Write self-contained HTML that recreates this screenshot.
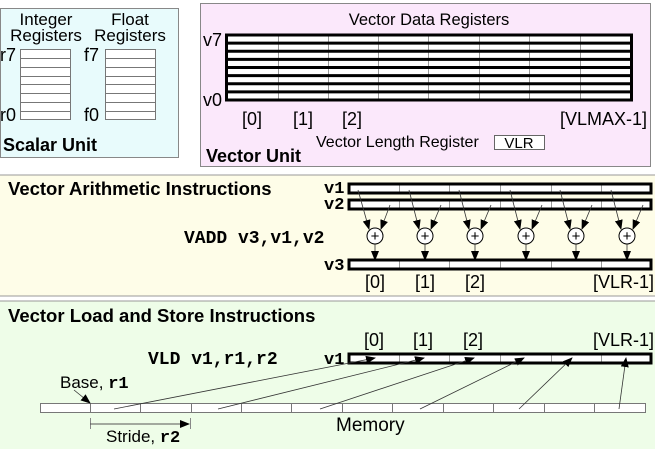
<!DOCTYPE html>
<html><head><style>
html,body{margin:0;padding:0;background:#fff;width:655px;height:449px;overflow:hidden}
text{font-family:"Liberation Sans",sans-serif}
.m{font-family:"Liberation Mono",monospace;font-weight:bold}
</style></head><body>
<svg width="655" height="449" viewBox="0 0 655 449" xmlns="http://www.w3.org/2000/svg">
<defs>
<marker id="ah" markerWidth="10" markerHeight="8" refX="9" refY="4" orient="auto" markerUnits="userSpaceOnUse"><path d="M0,0 L10,4 L0,8 z" fill="#000"/></marker>
</defs>
<!-- scalar unit -->
<rect x="0.5" y="8.5" width="178" height="149" fill="#e8fbfc" stroke="#888"/>
<text x="46" y="25" font-size="17" text-anchor="middle">Integer</text>
<text x="46" y="41" font-size="17" text-anchor="middle">Registers</text>
<text x="130" y="25" font-size="17" text-anchor="middle">Float</text>
<text x="130" y="41" font-size="17" text-anchor="middle">Registers</text>
<g fill="#fff" stroke="#777" stroke-width="1">
<rect x="20.5" y="49.5" width="50" height="70"/>
<rect x="105.5" y="49.5" width="50" height="70"/>
</g>
<g stroke="#777">
<path d="M20 58.5h50M20 67.5h50M20 76.5h50M20 84.5h50M20 93.5h50M20 102.5h50M20 111.5h50"/>
<path d="M105 58.5h50M105 67.5h50M105 76.5h50M105 84.5h50M105 93.5h50M105 102.5h50M105 111.5h50"/>
</g>
<text x="0" y="61" font-size="18">r7</text>
<text x="0" y="121" font-size="18">r0</text>
<text x="84" y="61" font-size="18">f7</text>
<text x="84" y="121" font-size="18">f0</text>
<text x="3" y="151" font-size="18" font-weight="bold">Scalar Unit</text>
<!-- vector unit -->
<rect x="200.5" y="3.5" width="450" height="163" fill="#fbe8fb" stroke="#888"/>
<text x="429" y="25" font-size="16.5" text-anchor="middle">Vector Data Registers</text>
<rect x="226.5" y="35" width="405" height="65" fill="#fff"/>
<g stroke="#999"><path d="M278.5 35v65M328.5 35v65M378.5 35v65M428.5 35v65M479.5 35v65M529.5 35v65M580.5 35v65"/></g>
<g stroke="#000" stroke-width="3" fill="none">
<rect x="226.5" y="35" width="405" height="65"/>
<path d="M226 43.1h405M226 51.2h405M226 59.4h405M226 67.5h405M226 75.6h405M226 83.8h405M226 91.9h405"/>
</g>
<text x="203" y="46" font-size="18">v7</text>
<text x="203" y="106" font-size="18">v0</text>
<text x="242" y="125" font-size="18">[0]</text>
<text x="293" y="125" font-size="18">[1]</text>
<text x="342" y="125" font-size="18">[2]</text>
<text x="560" y="125" font-size="18">[VLMAX-1]</text>
<text x="316" y="147" font-size="16">Vector Length Register</text>
<rect x="494.5" y="135.5" width="50" height="14" fill="#fff" stroke="#666"/>
<text x="519" y="148" font-size="15" text-anchor="middle">VLR</text>
<text x="206" y="162" font-size="18" font-weight="bold">Vector Unit</text>
<!-- arithmetic panel -->
<rect x="-1" y="175" width="657" height="121" fill="#fefde8" stroke="#999"/>
<text x="8" y="195" font-size="18.5" font-weight="bold">Vector Arithmetic Instructions</text>
<text x="184" y="243" font-size="18" class="m">VADD v3,v1,v2</text>
<text x="324" y="193" font-size="17" class="m">v1</text>
<text x="324" y="209" font-size="17" class="m">v2</text>
<text x="324" y="270" font-size="17" class="m">v3</text>
<g fill="#fff"><rect x="349" y="184" width="302" height="9"/><rect x="349" y="200" width="302" height="9"/><rect x="349" y="260" width="302" height="9"/></g>
<g stroke="#999"><path d="M399.5 184v9M449.5 184v9M500.5 184v9M551.5 184v9M601.5 184v9M399.5 200v9M449.5 200v9M500.5 200v9M551.5 200v9M601.5 200v9M399.5 260v9M449.5 260v9M500.5 260v9M551.5 260v9M601.5 260v9"/></g>
<g fill="none" stroke="#000" stroke-width="3"><rect x="349" y="184" width="302" height="9"/><rect x="349" y="200" width="302" height="9"/><rect x="349" y="260" width="302" height="9"/></g>
<g stroke="#333" stroke-width="0.8" marker-end="url(#ah)">
<path d="M358 190L369 229"/><path d="M390 205L381 229"/><path d="M375 244V260"/>
<path d="M409 190L419 229"/><path d="M441 205L431 229"/><path d="M425 244V260"/>
<path d="M459 190L469 229"/><path d="M491 205L481 229"/><path d="M475 244V260"/>
<path d="M510 190L520 229"/><path d="M542 205L532 229"/><path d="M526 244V260"/>
<path d="M560 190L570 229"/><path d="M592 205L582 229"/><path d="M576 244V260"/>
<path d="M611 190L621 229"/><path d="M643 205L633 229"/><path d="M627 244V260"/>
</g>
<g fill="#fff" stroke="#000"><circle cx="375" cy="236" r="8"/><circle cx="425" cy="236" r="8"/><circle cx="475" cy="236" r="8"/><circle cx="526" cy="236" r="8"/><circle cx="576" cy="236" r="8"/><circle cx="627" cy="236" r="8"/></g>
<g font-size="15" text-anchor="middle"><text x="375" y="241">+</text><text x="425" y="241">+</text><text x="475" y="241">+</text><text x="526" y="241">+</text><text x="576" y="241">+</text><text x="627" y="241">+</text></g>
<g font-size="18"><text x="365" y="288">[0]</text><text x="415" y="288">[1]</text><text x="465" y="288">[2]</text><text x="593" y="288">[VLR-1]</text></g>
<!-- load/store panel -->
<rect x="-1" y="301" width="657" height="150" fill="#eefde8" stroke="#999"/>
<text x="8" y="322" font-size="18.5" font-weight="bold">Vector Load and Store Instructions</text>
<g font-size="18"><text x="364" y="346">[0]</text><text x="413" y="346">[1]</text><text x="463" y="346">[2]</text><text x="593" y="346">[VLR-1]</text></g>
<text x="148" y="364" font-size="18" class="m">VLD v1,r1,r2</text>
<text x="324" y="364" font-size="17" class="m">v1</text>
<rect x="349" y="354" width="302" height="9" fill="#fff"/>
<g stroke="#999"><path d="M399.5 354v9M449.5 354v9M500.5 354v9M551.5 354v9M601.5 354v9"/></g>
<rect x="349" y="354" width="302" height="9" fill="none" stroke="#000" stroke-width="3"/>
<rect x="40.5" y="403.5" width="605" height="9" fill="#fff" stroke="#777"/>
<g stroke="#777"><path d="M90.5 403v9M140.5 403v9M191.5 403v9M241.5 403v9M291.5 403v9M342.5 403v9M392.5 403v9M443.5 403v9M493.5 403v9M544.5 403v9M594.5 403v9"/></g>
<text x="60" y="388" font-size="17">Base, <tspan class="m">r1</tspan></text>
<g stroke="#333" stroke-width="0.8" marker-end="url(#ah)">
<path d="M74 390L90 403"/>
<path d="M114 409L375 358"/><path d="M218 409L424 358"/><path d="M320 409L474 358"/><path d="M420 409L524 358"/><path d="M519 409L572 358"/><path d="M619 409L626 358"/>
</g>
<g stroke="#888"><path d="M90.5 418v11M190.5 418v11"/></g>
<path d="M90 424H189" stroke="#555" marker-end="url(#ah)"/>
<text x="106" y="442" font-size="17">Stride, <tspan class="m">r2</tspan></text>
<text x="336" y="431" font-size="19">Memory</text>
</svg>
</body></html>
